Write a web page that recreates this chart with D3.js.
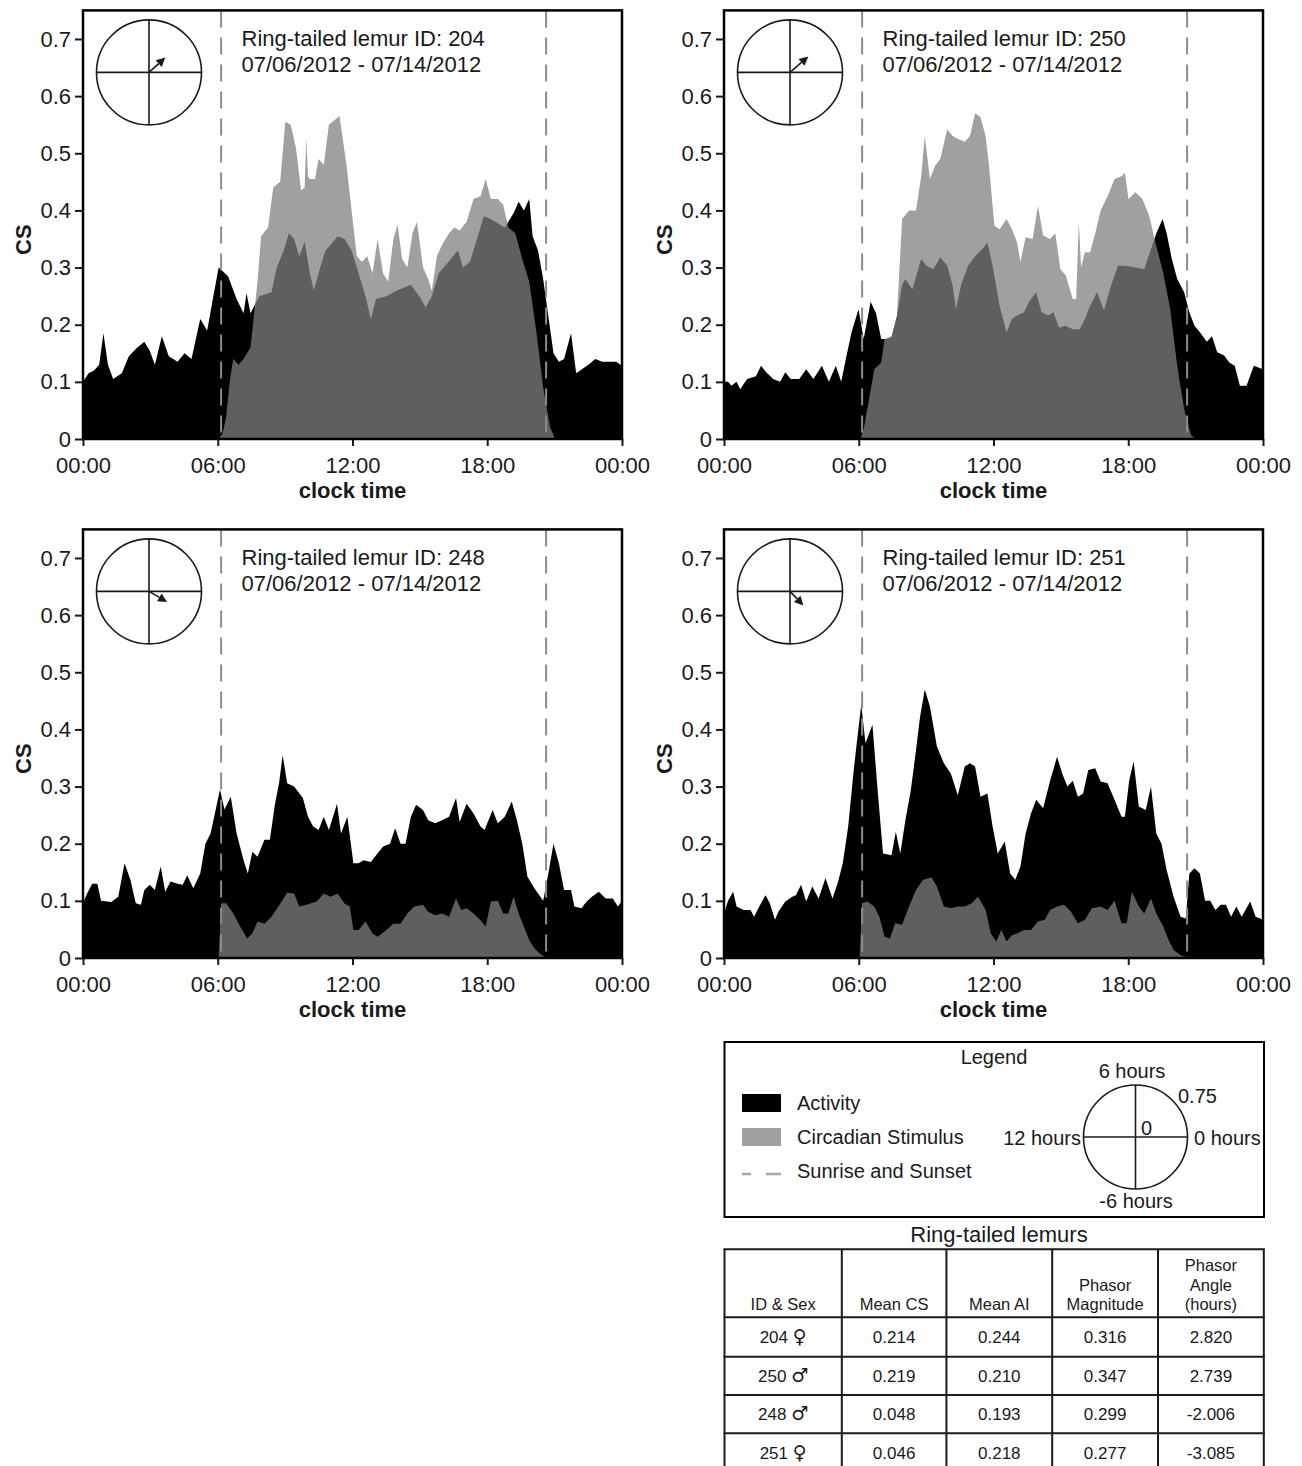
<!DOCTYPE html>
<html>
<head>
<meta charset="utf-8">
<title>Ring-tailed lemurs - activity and circadian stimulus</title>
<script src="https://d3js.org/d3.v7.min.js"></script>
<style>
  body { margin: 0; background: #fff; }
  svg { display: block; font-family: "Liberation Sans", Arial, sans-serif; }
</style>
</head>
<body>
<svg width="1302" height="1466"></svg>
<script>
// ---- data: [clock hour, value] ----
const act204 = [[0,.10],[.25,.115],[.49,.12],[.72,.13],[.91,.185],[1.11,.13],[1.34,.105],[1.73,.115],[2.04,.145],[2.42,.16],[2.73,.17],[2.97,.155],[3.2,.13],[3.51,.18],[3.82,.145],[4.21,.135],[4.52,.15],[4.83,.14],[5.22,.21],[5.53,.19],[5.76,.24],[6.04,.30],[6.46,.285],[6.84,.245],[7.15,.22],[7.28,.255],[7.46,.22],[7.85,.25],[8.39,.257],[8.63,.30],[8.94,.33],[9.17,.36],[9.4,.35],[9.63,.32],[9.87,.345],[10.1,.29],[10.28,.26],[10.56,.30],[10.8,.33],[11.03,.34],[11.34,.355],[11.65,.35],[11.96,.33],[12.27,.29],[12.58,.25],[12.82,.21],[13.05,.245],[13.51,.25],[13.98,.26],[14.6,.27],[15.06,.245],[15.25,.23],[15.53,.25],[15.84,.29],[16.38,.315],[16.69,.33],[16.92,.30],[17.23,.31],[17.54,.35],[17.85,.39],[18.16,.385],[18.78,.37],[19.17,.395],[19.4,.415],[19.63,.40],[19.87,.42],[20.02,.355],[20.26,.33],[20.49,.28],[20.72,.215],[20.95,.15],[21.19,.135],[21.42,.14],[21.73,.185],[21.96,.115],[22.5,.13],[22.81,.14],[23.12,.135],[23.74,.135],[24,.128]];
const cs204 = [[6.04,0],[6.22,.01],[6.38,.04],[6.53,.10],[6.69,.14],[6.92,.13],[7.15,.14],[7.46,.16],[7.62,.22],[7.77,.275],[7.93,.355],[8.24,.37],[8.47,.44],[8.78,.45],[9.01,.555],[9.25,.55],[9.48,.51],[9.71,.435],[9.87,.44],[9.94,.525],[10.02,.46],[10.1,.455],[10.33,.455],[10.49,.49],[10.72,.48],[10.95,.55],[11.42,.565],[11.73,.48],[11.96,.40],[12.19,.32],[12.42,.31],[12.66,.32],[12.89,.29],[13.12,.35],[13.36,.29],[13.59,.275],[13.82,.35],[14.01,.375],[14.21,.315],[14.44,.30],[14.67,.36],[14.87,.38],[15.14,.30],[15.37,.28],[15.53,.26],[15.76,.32],[15.99,.34],[16.3,.36],[16.53,.37],[16.77,.365],[17.08,.38],[17.39,.42],[17.7,.425],[17.93,.455],[18.16,.42],[18.47,.42],[18.71,.41],[18.94,.37],[19.25,.36],[19.56,.315],[19.87,.275],[20.18,.19],[20.49,.09],[20.8,.02],[21.03,0]];

const act250 = [[0,.10],[.18,.10],[.33,.093],[.56,.10],[.72,.087],[1.03,.105],[1.42,.11],[1.65,.128],[1.88,.117],[2.19,.105],[2.5,.10],[2.73,.117],[2.97,.105],[3.35,.105],[3.66,.122],[3.98,.105],[4.36,.128],[4.67,.10],[4.98,.128],[5.22,.10],[5.45,.145],[5.68,.187],[5.99,.227],[6.22,.175],[6.53,.24],[6.77,.22],[7.0,.175],[7.23,.175],[7.46,.178],[7.7,.215],[7.93,.27],[8.08,.28],[8.39,.262],[8.78,.315],[9.01,.303],[9.32,.297],[9.63,.318],[9.94,.303],[10.18,.268],[10.33,.227],[10.56,.27],[10.87,.303],[11.18,.32],[11.49,.332],[11.73,.344],[11.96,.303],[12.27,.233],[12.58,.187],[12.82,.21],[13.05,.216],[13.36,.222],[13.59,.24],[13.9,.257],[14.14,.222],[14.44,.216],[14.67,.222],[14.91,.195],[15.22,.198],[15.53,.192],[15.84,.192],[16.07,.21],[16.3,.233],[16.61,.257],[16.92,.225],[17.23,.268],[17.54,.303],[17.85,.303],[18.32,.30],[18.71,.297],[19.01,.332],[19.25,.36],[19.53,.385],[19.71,.36],[19.94,.315],[20.18,.28],[20.49,.257],[20.72,.222],[20.95,.198],[21.19,.187],[21.5,.17],[21.73,.18],[21.96,.152],[22.27,.146],[22.5,.134],[22.74,.128],[22.97,.093],[23.27,.093],[23.59,.128],[24,.122]];
const cs250 = [[6.07,0],[6.22,.017],[6.46,.07],[6.69,.122],[7.0,.134],[7.15,.175],[7.46,.18],[7.7,.215],[7.93,.385],[8.24,.40],[8.55,.40],[8.78,.46],[8.94,.53],[9.17,.455],[9.4,.478],[9.63,.49],[9.94,.542],[10.18,.53],[10.41,.525],[10.72,.52],[10.95,.53],[11.18,.57],[11.42,.563],[11.65,.53],[11.8,.478],[12.04,.373],[12.27,.367],[12.58,.385],[12.82,.367],[13.05,.344],[13.2,.31],[13.43,.353],[13.74,.35],[13.98,.408],[14.21,.356],[14.52,.35],[14.75,.36],[14.98,.297],[15.22,.286],[15.53,.245],[15.68,.245],[15.8,.38],[15.9,.30],[16.07,.327],[16.3,.327],[16.53,.36],[16.77,.40],[17.08,.425],[17.39,.455],[17.7,.46],[17.85,.466],[18.01,.42],[18.32,.432],[18.63,.42],[18.94,.39],[19.17,.35],[19.56,.29],[19.87,.227],[20.18,.128],[20.49,.052],[20.8,.006],[21.03,0]];

const act248 = [[0,.096],[.18,.113],[.41,.13],[.64,.13],[.8,.10],[1.26,.098],[1.57,.107],[1.85,.166],[2.11,.137],[2.35,.096],[2.58,.093],[2.73,.119],[2.97,.128],[3.2,.119],[3.46,.16],[3.66,.116],[3.9,.134],[4.21,.13],[4.44,.128],[4.64,.145],[4.91,.122],[5.22,.148],[5.45,.20],[5.68,.218],[5.91,.26],[6.1,.295],[6.3,.26],[6.58,.282],[6.84,.218],[7.15,.171],[7.34,.148],[7.54,.186],[7.77,.177],[8.08,.207],[8.32,.207],[8.55,.27],[8.73,.306],[8.89,.355],[9.09,.306],[9.4,.30],[9.79,.28],[10.02,.247],[10.25,.23],[10.49,.224],[10.72,.247],[10.95,.224],[11.31,.27],[11.49,.218],[11.77,.247],[12.04,.166],[12.27,.166],[12.5,.171],[12.82,.168],[13.05,.18],[13.36,.195],[13.67,.20],[13.9,.227],[14.14,.20],[14.36,.20],[14.6,.247],[14.83,.268],[15.14,.259],[15.37,.241],[15.68,.236],[15.99,.241],[16.3,.247],[16.61,.28],[16.77,.238],[17.08,.27],[17.39,.253],[17.7,.23],[17.88,.224],[18.24,.259],[18.47,.236],[18.78,.247],[19.09,.274],[19.32,.241],[19.56,.20],[19.79,.142],[20.1,.122],[20.49,.10],[20.72,.148],[20.95,.20],[21.19,.166],[21.42,.119],[21.73,.119],[21.88,.09],[22.19,.087],[22.43,.099],[22.66,.107],[22.97,.116],[23.27,.104],[23.59,.104],[23.82,.09],[24,.10]];
const cs248 = [[6.04,0],[6.15,.096],[6.38,.096],[6.69,.078],[7.0,.055],[7.31,.034],[7.54,.043],[7.77,.064],[8.08,.06],[8.39,.072],[8.7,.09],[9.09,.114],[9.4,.113],[9.63,.09],[9.94,.093],[10.41,.099],[10.72,.113],[11.03,.107],[11.34,.113],[11.65,.095],[11.88,.09],[12.04,.049],[12.27,.049],[12.58,.064],[12.89,.043],[13.12,.037],[13.51,.049],[13.82,.06],[14.14,.06],[14.44,.078],[14.75,.09],[15.14,.093],[15.37,.081],[15.68,.075],[15.99,.078],[16.3,.072],[16.61,.104],[16.84,.084],[17.08,.087],[17.39,.078],[17.7,.066],[17.93,.055],[18.16,.099],[18.47,.10],[18.71,.078],[18.94,.078],[19.17,.107],[19.4,.078],[19.63,.055],[19.87,.031],[20.1,.017],[20.33,.008],[20.56,.002],[20.62,0]];

const act251 = [[0,.078],[.18,.10],[.41,.116],[.56,.09],[.87,.084],[1.18,.084],[1.34,.072],[1.57,.09],[1.85,.11],[2.04,.096],[2.27,.067],[2.42,.081],[2.73,.099],[3.04,.107],[3.2,.11],[3.43,.128],[3.66,.099],[3.93,.125],[4.21,.104],[4.52,.14],[4.83,.104],[5.06,.131],[5.29,.166],[5.53,.23],[5.76,.323],[5.91,.376],[6.11,.443],[6.3,.376],[6.61,.408],[6.84,.294],[7.08,.183],[7.46,.18],[7.65,.221],[7.85,.183],[8.08,.242],[8.32,.294],[8.55,.364],[8.73,.422],[8.94,.47],[9.17,.44],[9.48,.37],[9.79,.341],[10.1,.323],[10.41,.285],[10.72,.335],[10.95,.341],[11.18,.335],[11.42,.282],[11.73,.288],[11.96,.23],[12.19,.183],[12.5,.204],[12.74,.148],[12.97,.137],[13.2,.16],[13.43,.218],[13.67,.253],[13.9,.277],[14.21,.262],[14.52,.31],[14.83,.352],[15.06,.323],[15.29,.30],[15.53,.31],[15.76,.282],[15.99,.288],[16.22,.329],[16.53,.332],[16.77,.309],[17.08,.306],[17.39,.277],[17.7,.247],[17.85,.247],[18.04,.31],[18.24,.344],[18.47,.265],[18.78,.259],[19.01,.30],[19.25,.218],[19.48,.20],[19.71,.154],[20.02,.107],[20.33,.072],[20.56,.069],[20.72,.148],[20.95,.157],[21.19,.148],[21.42,.10],[21.65,.10],[21.88,.084],[22.12,.093],[22.35,.093],[22.58,.072],[22.81,.09],[23.05,.072],[23.43,.099],[23.67,.072],[24,.067]];
const cs251 = [[6.04,0],[6.15,.096],[6.38,.099],[6.69,.09],[6.92,.072],[7.15,.037],[7.39,.034],[7.62,.061],[7.93,.058],[8.24,.09],[8.55,.119],[8.86,.137],[9.25,.141],[9.48,.125],[9.79,.09],[10.1,.087],[10.41,.09],[10.72,.09],[11.03,.096],[11.31,.107],[11.65,.084],[11.88,.043],[12.12,.029],[12.35,.049],[12.58,.029],[12.82,.04],[13.05,.043],[13.36,.049],[13.67,.049],[13.98,.064],[14.29,.067],[14.52,.084],[14.83,.09],[15.14,.093],[15.45,.081],[15.76,.061],[16.07,.067],[16.38,.087],[16.77,.09],[17.08,.084],[17.39,.10],[17.7,.061],[17.93,.061],[18.16,.116],[18.47,.09],[18.71,.078],[19.01,.104],[19.25,.078],[19.56,.055],[19.79,.032],[20.02,.014],[20.33,.005],[20.56,.002],[20.64,0]];

// sunrise / sunset (clock hours)
const sunTimes = [6.15, 20.62];

// x ticks
const xTicks = [0, 6, 12, 18, 24];
const xTickLabels = ["00:00", "06:00", "12:00", "18:00", "00:00"];
const yTicks = [0, 0.1, 0.2, 0.3, 0.4, 0.5, 0.6, 0.7];

// summary table
const lemurIds = ["204", "250", "248", "251"];
const lemurSex = ["\u2640", "\u2642", "\u2642", "\u2640"];
const meanCS = ["0.214", "0.219", "0.048", "0.046"];
const meanAI = ["0.244", "0.210", "0.193", "0.218"];
const phasorMag = [0.316, 0.347, 0.299, 0.277];
const phasorAngle = [2.820, 2.739, -2.006, -3.085];
const dateRange = "07/06/2012 - 07/14/2012";

// ---- layout ----
const svg = d3.select("svg");
const ink = "#1a1a1a";
const W = 539, H = 428.6;
const panels = [
  {i: 0, act: act204, cs: cs204, left: 83,  top: 10.4},
  {i: 1, act: act250, cs: cs250, left: 724, top: 10.4},
  {i: 2, act: act248, cs: cs248, left: 83,  top: 529.4},
  {i: 3, act: act251, cs: cs251, left: 724, top: 529.4}
];

svg.append("rect").attr("width", 1302).attr("height", 1466).attr("fill", "#fff");

const x = d3.scaleLinear().domain([0, 24]).range([0, W]);
const y = d3.scaleLinear().domain([0, 0.75]).range([H, 0]);
const rScale = d3.scaleLinear().domain([0, 0.75]).range([0, 52.5]);

const area = d3.area()
  .x(d => x(d[0]))
  .y0(H)
  .y1(d => y(d[1]));

function phasor(g, cx, cy, r, mag, hours, headLen, headW) {
  g.append("circle").attr("cx", cx).attr("cy", cy).attr("r", r)
    .attr("fill", "#fff").attr("stroke", ink).attr("stroke-width", 1.6);
  g.append("line").attr("x1", cx - r).attr("x2", cx + r).attr("y1", cy).attr("y2", cy)
    .attr("stroke", ink).attr("stroke-width", 1.6);
  g.append("line").attr("x1", cx).attr("x2", cx).attr("y1", cy - r).attr("y2", cy + r)
    .attr("stroke", ink).attr("stroke-width", 1.6);
  if (mag == null) return;
  const len = rScale(mag);
  const a = hours / 24 * 2 * Math.PI;
  const ux = Math.cos(a), uy = -Math.sin(a);
  const tx = cx + len * ux, ty = cy + len * uy;
  const bx = tx - headLen * ux, by = ty - headLen * uy;
  g.append("line").attr("x1", cx).attr("y1", cy).attr("x2", bx).attr("y2", by)
    .attr("stroke", ink).attr("stroke-width", 1.6);
  g.append("path")
    .attr("d", `M${tx},${ty}L${bx - headW * uy},${by + headW * ux}L${bx + headW * uy},${by - headW * ux}Z`)
    .attr("fill", ink);
}

panels.forEach(p => {
  const g = svg.append("g").attr("transform", `translate(${p.left},${p.top})`);

  g.append("clipPath").attr("id", "clip" + p.i)
    .append("rect").attr("width", W).attr("height", H);

  const plot = g.append("g").attr("clip-path", `url(#clip${p.i})`);
  plot.append("path").datum(p.act).attr("d", area).attr("fill", "#000");
  plot.append("path").datum(p.cs).attr("d", area)
    .attr("fill", "#808080").attr("fill-opacity", 0.745);

  plot.selectAll("line.sun").data(sunTimes).join("line")
    .attr("class", "sun")
    .attr("x1", d => x(d)).attr("x2", d => x(d))
    .attr("y1", 0).attr("y2", H)
    .attr("stroke", "#8c8c8c").attr("stroke-width", 2)
    .attr("stroke-dasharray", "17,10");

  // y axis
  const ya = g.append("g")
    .call(d3.axisLeft(y).tickValues(yTicks).tickSize(8).tickPadding(4)
      .tickFormat(d => d === 0 ? "0" : d.toFixed(1)));
  ya.select(".domain").remove();
  ya.selectAll("line").attr("stroke", ink).attr("stroke-width", 2);
  ya.selectAll("text").attr("fill", ink).style("font-size", "22px")
    .style("font-family", "'Liberation Sans', Arial, sans-serif");

  // x axis
  const xa = g.append("g").attr("transform", `translate(0,${H})`)
    .call(d3.axisBottom(x).tickValues(xTicks).tickSize(7).tickPadding(11)
      .tickFormat((d, i) => xTickLabels[i]));
  xa.select(".domain").remove();
  xa.selectAll("line").attr("stroke", ink).attr("stroke-width", 2);
  xa.selectAll("text").attr("fill", ink).style("font-size", "22px")
    .style("font-family", "'Liberation Sans', Arial, sans-serif");

  // frame
  g.append("rect").attr("width", W).attr("height", H)
    .attr("fill", "none").attr("stroke", "#000").attr("stroke-width", 2.5);

  g.append("text")
    .attr("transform", `translate(-52,${H / 2 + 15}) rotate(-90)`)
    .attr("text-anchor", "middle").attr("fill", ink)
    .style("font-size", "22px").style("font-weight", "bold")
    .text("CS");

  g.append("text")
    .attr("x", W / 2).attr("y", H + 59)
    .attr("text-anchor", "middle").attr("fill", ink)
    .style("font-size", "22px").style("font-weight", "bold")
    .text("clock time");

  g.append("text").attr("x", 158.5).attr("y", 36).attr("fill", ink)
    .style("font-size", "22px").text("Ring-tailed lemur ID: " + lemurIds[p.i]);
  g.append("text").attr("x", 158.5).attr("y", 62).attr("fill", ink)
    .style("font-size", "22px").text(dateRange);

  phasor(g, 66, 62, 52.5, phasorMag[p.i], phasorAngle[p.i], 9, 4.5);
});

// ---- legend box ----
const lg = svg.append("g");
lg.append("rect").attr("x", 724.5).attr("y", 1042).attr("width", 539.5).attr("height", 175)
  .attr("fill", "none").attr("stroke", "#000").attr("stroke-width", 2);
lg.append("text").attr("x", 994).attr("y", 1064).attr("text-anchor", "middle")
  .attr("fill", ink).style("font-size", "20px").text("Legend");

const legendItems = [
  {label: "Activity", kind: "rect", fill: "#000", y: 1103},
  {label: "Circadian Stimulus", kind: "rect", fill: "#a0a0a0", y: 1137},
  {label: "Sunrise and Sunset", kind: "dash", fill: "#a8a8a8", y: 1171}
];
legendItems.forEach(it => {
  if (it.kind === "rect") {
    lg.append("rect").attr("x", 742).attr("y", it.y - 9).attr("width", 39).attr("height", 18)
      .attr("fill", it.fill);
  } else {
    lg.append("line").attr("x1", 742).attr("x2", 781).attr("y1", it.y + 3).attr("y2", it.y + 3)
      .attr("stroke", it.fill).attr("stroke-width", 2.5).attr("stroke-dasharray", "9,15,15");
  }
  lg.append("text").attr("x", 797).attr("y", it.y + 7).attr("fill", ink)
    .style("font-size", "20px").text(it.label);
});

phasor(lg, 1135.5, 1137, 52, null, 0);
const legendCircleLabels = [
  {t: "6 hours", x: 1132, y: 1078, a: "middle"},
  {t: "0.75", x: 1178, y: 1103, a: "start"},
  {t: "12 hours", x: 1081, y: 1145, a: "end"},
  {t: "0 hours", x: 1194, y: 1145, a: "start"},
  {t: "0", x: 1141, y: 1135, a: "start"},
  {t: "-6 hours", x: 1136, y: 1208, a: "middle"}
];
lg.selectAll("text.cl").data(legendCircleLabels).join("text")
  .attr("class", "cl")
  .attr("x", d => d.x).attr("y", d => d.y).attr("text-anchor", d => d.a)
  .attr("fill", ink).style("font-size", "20px")
  .text(d => d.t);

// ---- summary table ----
const tg = svg.append("g");
tg.append("text").attr("x", 999).attr("y", 1242).attr("text-anchor", "middle")
  .attr("fill", ink).style("font-size", "22px").text("Ring-tailed lemurs");

const colEdges = [724.5, 841.8, 946.4, 1052.2, 1158, 1263.8];
const rowEdges = [1249.3, 1317.3, 1356.7, 1395, 1433.3, 1472];
const headers = [["ID & Sex"], ["Mean CS"], ["Mean AI"], ["Phasor", "Magnitude"], ["Phasor", "Angle", "(hours)"]];

tg.selectAll("line.col").data(colEdges).join("line").attr("class", "col")
  .attr("x1", d => d).attr("x2", d => d)
  .attr("y1", rowEdges[0]).attr("y2", rowEdges[rowEdges.length - 1])
  .attr("stroke", ink).attr("stroke-width", 2);
tg.selectAll("line.row").data(rowEdges).join("line").attr("class", "row")
  .attr("x1", colEdges[0] - 1).attr("x2", colEdges[colEdges.length - 1] + 1)
  .attr("y1", d => d).attr("y2", d => d)
  .attr("stroke", ink).attr("stroke-width", 2);

const colMid = i => (colEdges[i] + colEdges[i + 1]) / 2;
headers.forEach((lines, c) => {
  lines.forEach((ln, k) => {
    tg.append("text").attr("x", colMid(c)).attr("y", 1310 - (lines.length - 1 - k) * 19.5)
      .attr("text-anchor", "middle").attr("fill", ink).style("font-size", "16.5px").text(ln);
  });
});

lemurIds.forEach((id, ri) => {
  const cy = (rowEdges[ri + 1] + rowEdges[ri + 2]) / 2;
  const idText = tg.append("text").attr("x", colMid(0)).attr("y", cy + 6)
    .attr("text-anchor", "middle").attr("fill", ink).style("font-size", "17px");
  idText.append("tspan").text(id + " ");
  idText.append("tspan").style("font-family", "'DejaVu Sans', sans-serif")
    .style("font-size", "19px").text(lemurSex[ri]);

  const vals = [meanCS[ri], meanAI[ri], phasorMag[ri].toFixed(3), phasorAngle[ri].toFixed(3)];
  vals.forEach((v, c) => {
    tg.append("text").attr("x", colMid(c + 1)).attr("y", cy + 6)
      .attr("text-anchor", "middle").attr("fill", ink).style("font-size", "17px").text(v);
  });
});
</script>
</body>
</html>
